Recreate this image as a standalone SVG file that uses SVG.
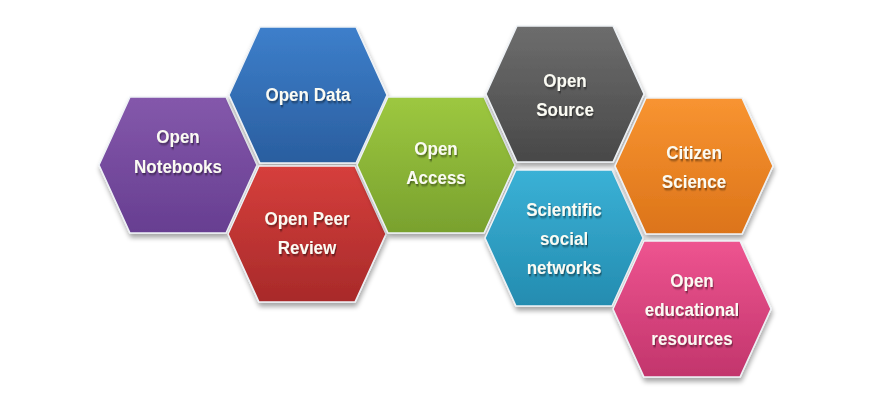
<svg xmlns="http://www.w3.org/2000/svg" xmlns:xlink="http://www.w3.org/1999/xlink" width="895" height="406" viewBox="0 0 895 406">
<defs>
<polygon id="hex" points="-79,0 -48,-68 48,-68 79,0 48,68 -48,68"/>
<filter id="sh" x="-20%" y="-20%" width="140%" height="150%">
<feGaussianBlur in="SourceAlpha" stdDeviation="2.5"/>
<feOffset dx="1" dy="4" result="b"/>
<feComponentTransfer><feFuncA type="linear" slope="0.35"/></feComponentTransfer>
<feMerge><feMergeNode/><feMergeNode in="SourceGraphic"/></feMerge>
</filter>
<filter id="ts" x="-10%" y="-30%" width="120%" height="160%">
<feGaussianBlur in="SourceAlpha" stdDeviation="0.8"/>
<feOffset dx="1" dy="1.5"/>
<feComponentTransfer><feFuncA type="linear" slope="0.45"/></feComponentTransfer>
<feMerge><feMergeNode/><feMergeNode in="SourceGraphic"/></feMerge>
</filter>
<linearGradient id="gPurple" x1="0" y1="0" x2="0" y2="1"><stop offset="0" stop-color="#8458ab"/><stop offset="1" stop-color="#673e91"/></linearGradient>
<linearGradient id="gBlue" x1="0" y1="0" x2="0" y2="1"><stop offset="0" stop-color="#3d7fcb"/><stop offset="1" stop-color="#2a5e9f"/></linearGradient>
<linearGradient id="gRed" x1="0" y1="0" x2="0" y2="1"><stop offset="0" stop-color="#d63f3c"/><stop offset="1" stop-color="#a82a2a"/></linearGradient>
<linearGradient id="gGreen" x1="0" y1="0" x2="0" y2="1"><stop offset="0" stop-color="#9dc840"/><stop offset="1" stop-color="#79a12e"/></linearGradient>
<linearGradient id="gGray" x1="0" y1="0" x2="0" y2="1"><stop offset="0" stop-color="#6d6d6d"/><stop offset="1" stop-color="#484848"/></linearGradient>
<linearGradient id="gCyan" x1="0" y1="0" x2="0" y2="1"><stop offset="0" stop-color="#3ab1d6"/><stop offset="1" stop-color="#248cb0"/></linearGradient>
<linearGradient id="gOrange" x1="0" y1="0" x2="0" y2="1"><stop offset="0" stop-color="#f89431"/><stop offset="1" stop-color="#dc7419"/></linearGradient>
<linearGradient id="gPink" x1="0" y1="0" x2="0" y2="1"><stop offset="0" stop-color="#ee5490"/><stop offset="1" stop-color="#c2356c"/></linearGradient>
</defs>
<style>
.h{stroke:#eef2f6;stroke-width:1.5;filter:url(#sh)}
.t{font-family:"Liberation Sans",Arial,sans-serif;font-weight:bold;font-size:18.5px;fill:#fbfbf3;text-anchor:middle;filter:url(#ts)}
</style>
<rect width="895" height="406" fill="#ffffff"/>
<g id="connectors"/>
<g id="open-notebooks" transform="translate(178,165)">
<use xlink:href="#hex" class="h" fill="url(#gPurple)"/>
<g transform="scale(0.92,1)"><text class="t" x="0" y="-22">Open</text><text class="t" x="0" y="8">Notebooks</text></g>
</g>
<g id="open-data" transform="translate(308,95)">
<use xlink:href="#hex" class="h" fill="url(#gBlue)"/>
<g transform="scale(0.92,1)"><text class="t" x="0" y="6">Open Data</text></g>
</g>
<g id="open-peer-review" transform="translate(307,234)">
<use xlink:href="#hex" class="h" fill="url(#gRed)"/>
<g transform="scale(0.92,1)"><text class="t" x="0" y="-9">Open Peer</text><text class="t" x="0" y="20">Review</text></g>
</g>
<g id="open-access" transform="translate(436,165)">
<use xlink:href="#hex" class="h" fill="url(#gGreen)"/>
<g transform="scale(0.92,1)"><text class="t" x="0" y="-10">Open</text><text class="t" x="0" y="19">Access</text></g>
</g>
<g id="open-source" transform="translate(565,94)">
<use xlink:href="#hex" class="h" fill="url(#gGray)"/>
<g transform="scale(0.92,1)"><text class="t" x="0" y="-7">Open</text><text class="t" x="0" y="22">Source</text></g>
</g>
<g id="scientific-social-networks" transform="translate(564,238)">
<use xlink:href="#hex" class="h" fill="url(#gCyan)"/>
<g transform="scale(0.92,1)"><text class="t" x="0" y="-22">Scientific</text><text class="t" x="0" y="7">social</text><text class="t" x="0" y="36">networks</text></g>
</g>
<g id="citizen-science" transform="translate(694,166)">
<use xlink:href="#hex" class="h" fill="url(#gOrange)"/>
<g transform="scale(0.92,1)"><text class="t" x="0" y="-7">Citizen</text><text class="t" x="0" y="22">Science</text></g>
</g>
<g id="open-educational-resources" transform="translate(692,309)">
<use xlink:href="#hex" class="h" fill="url(#gPink)"/>
<g transform="scale(0.92,1)"><text class="t" x="0" y="-22">Open</text><text class="t" x="0" y="7">educational</text><text class="t" x="0" y="36">resources</text></g>
</g>
</svg>
